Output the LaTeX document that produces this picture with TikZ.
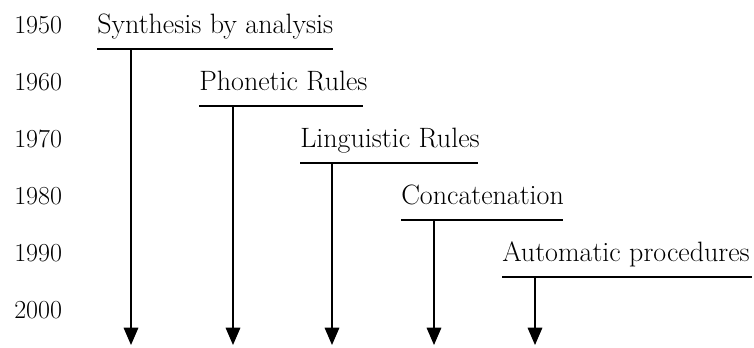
\documentclass[tikz,border=0pt]{standalone}
\usepackage{amsmath}
\usepackage{tikz}
\usetikzlibrary{arrows.meta}

\begin{document}
\begin{tikzpicture}[x=0.75pt,y=0.75pt,yscale=-1,xscale=1,
  lbl/.style={anchor=base west,inner sep=0pt,font=\fontsize{21}{25}\selectfont},
  yr/.style={anchor=base west,inner sep=0pt,font=\fontsize{19.5}{23}\selectfont},
  bar/.style={line width=0.9pt},
  down/.style={line width=0.9pt,-{Triangle[width=11pt,length=13pt]}}]
\useasboundingbox (0,0) rectangle (754,347);
% decades
\node (y1950) [yr] at (14,33) {1950};
\node (y1960) [yr] at (14,90) {1960};
\node (y1970) [yr] at (14,147) {1970};
\node (y1980) [yr] at (14,204) {1980};
\node (y1990) [yr] at (14,261) {1990};
\node (y2000) [yr] at (14,318) {2000};
% methods
\node (synth) [lbl] at (97,33) {Synthesis by analysis};
\node (phon) [lbl] at (199,90) {Phonetic Rules};
\node (ling) [lbl] at (300,147) {Linguistic Rules};
\node (conc) [lbl] at (401,204) {Concatenation};
\node (auto) [lbl] at (502,261) {Automatic procedures};
% bars under the methods
\draw [bar] (97,49) -- (333,49);
\draw [bar] (199,106) -- (363,106);
\draw [bar] (300,163) -- (478,163);
\draw [bar] (401,220) -- (563,220);
\draw [bar] (502,277) -- (752,277);
% arrows down to the present
\coordinate (synthTop) at (131,49);   \coordinate (synthEnd) at (131,345);
\coordinate (phonTop) at (233,106);   \coordinate (phonEnd) at (233,345);
\coordinate (lingTop) at (332,163);   \coordinate (lingEnd) at (332,345);
\coordinate (concTop) at (434,220);   \coordinate (concEnd) at (434,345);
\coordinate (autoTop) at (535,277);   \coordinate (autoEnd) at (535,345);
\draw [down] (synthTop) -- (synthEnd);
\draw [down] (phonTop) -- (phonEnd);
\draw [down] (lingTop) -- (lingEnd);
\draw [down] (concTop) -- (concEnd);
\draw [down] (autoTop) -- (autoEnd);
\end{tikzpicture}
\end{document}
